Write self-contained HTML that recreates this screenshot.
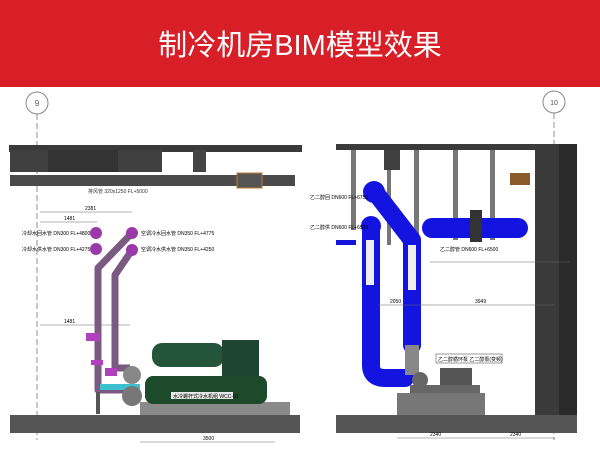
<!DOCTYPE html>
<html><head><meta charset="utf-8"><style>
body{margin:0;width:600px;height:450px;overflow:hidden;background:#fff;font-family:"Liberation Sans","Noto Sans CJK SC",sans-serif}
.hdr{position:absolute;left:0;top:0;width:600px;height:87px;background:#d81e26;color:#fff;font-size:29px;text-align:center;line-height:92px;letter-spacing:0px}
svg{position:absolute;left:0;top:0}
</style></head><body>
<div class="hdr">制冷机房BIM模型效果</div>
<svg width="600" height="450" viewBox="0 0 600 450" font-family="Liberation Sans, Noto Sans CJK SC, sans-serif">
<!-- axis markers -->
<circle cx="37" cy="103" r="11" fill="#fff" stroke="#888"/><text x="37" y="106" font-size="8" text-anchor="middle" fill="#555">9</text>
<line x1="37" y1="114" x2="37" y2="440" stroke="#777" stroke-dasharray="6,3" stroke-width="0.8"/>
<circle cx="554" cy="102" r="11" fill="#fff" stroke="#888"/><text x="554" y="105" font-size="7" text-anchor="middle" fill="#555">10</text>
<line x1="554" y1="113" x2="554" y2="440" stroke="#777" stroke-dasharray="6,3" stroke-width="0.8"/>
<!-- LEFT -->
<rect x="9" y="145" width="293" height="7" fill="#3a3a3a"/>
<rect x="10" y="150" width="152" height="22" fill="#404040"/>
<rect x="48" y="150" width="70" height="22" fill="#333"/>
<rect x="193" y="150" width="13" height="22" fill="#444"/>
<rect x="10" y="175" width="285" height="11" fill="#4a4a4a"/>
<rect x="237" y="173" width="25" height="15" fill="#555" stroke="#c07a30"/>
<text x="88" y="193" font-size="5" fill="#333">排风管 320x1250 FL+5000</text>
<line x1="40" y1="212" x2="132" y2="212" stroke="#666" stroke-width="0.6"/><text x="85" y="210" font-size="5">2381</text>
<line x1="40" y1="222" x2="97" y2="222" stroke="#666" stroke-width="0.6"/><text x="64" y="220" font-size="5">1481</text>
<line x1="40" y1="325" x2="130" y2="325" stroke="#666" stroke-width="0.6"/><text x="64" y="323" font-size="5">1481</text>
<text x="22" y="235" font-size="5">冷却水回水管 DN300 FL+4800</text>
<text x="22" y="251" font-size="5">冷却水供水管 DN300 FL+4275</text>
<text x="141" y="235" font-size="5">空调冷水回水管 DN350 FL+4775</text>
<text x="141" y="251" font-size="5">空调冷水供水管 DN350 FL+4250</text>
<circle cx="96" cy="233" r="6" fill="#9a3aa8"/><circle cx="96" cy="249" r="6" fill="#9a3aa8"/>
<g fill="none" stroke="#7a5a80" stroke-width="7" stroke-linejoin="round">
<path d="M132 233 L98 268 L98 390 L140 390"/>
<path d="M132 250 L115 275 L115 368 L130 368"/></g>
<circle cx="132" cy="233" r="6" fill="#9a3aa8"/><circle cx="132" cy="250" r="6" fill="#9a3aa8"/>
<rect x="86" y="333" width="14" height="8" fill="#b040c0"/><rect x="91" y="360" width="12" height="5" fill="#b040c0"/><rect x="105" y="368" width="12" height="8" fill="#b040c0"/>
<rect x="96" y="392" width="4" height="22" fill="#555"/>
<rect x="100" y="384" width="40" height="6" fill="#3cc0d0"/>
<circle cx="132" cy="396" r="10" fill="#777"/><circle cx="132" cy="375" r="9" fill="#888"/>
<rect x="140" y="402" width="150" height="13" fill="#8a8a8a"/>
<rect x="145" y="376" width="122" height="28" rx="8" fill="#1e4a2c"/>
<rect x="152" y="343" width="72" height="24" rx="10" fill="#24553a"/>
<rect x="222" y="340" width="37" height="36" fill="#1d4530"/>
<rect x="171" y="392" width="62" height="7" fill="#e8e8e8"/><text x="173" y="398" font-size="5">水冷螺杆式冷水机组 WCC-01</text>
<rect x="10" y="415" width="290" height="18" fill="#555"/>
<line x1="140" y1="442" x2="275" y2="442" stroke="#666" stroke-width="0.6"/><text x="203" y="440" font-size="5">3500</text>
<!-- RIGHT -->
<rect x="336" y="144" width="200" height="6" fill="#3a3a3a"/>
<g fill="#777"><rect x="351" y="150" width="5" height="80"/><rect x="414" y="150" width="5" height="190"/><rect x="453" y="150" width="5" height="90"/><rect x="490" y="150" width="5" height="90"/><rect x="387" y="150" width="4" height="95"/></g>
<rect x="384" y="150" width="16" height="20" fill="#3f3f3f"/>
<rect x="510" y="173" width="20" height="12" fill="#8a5a2a"/>
<rect x="535" y="144" width="42" height="272" fill="#3a3a3a"/>
<rect x="559" y="144" width="18" height="272" fill="#2a2a2a"/>
<rect x="336" y="415" width="241" height="18" fill="#555"/>
<rect x="336" y="240" width="20" height="5" fill="#1414d8"/>
<g fill="none" stroke="#1414e0" stroke-linejoin="round" stroke-linecap="round">
<path d="M371 228 L371 365 Q371 378 385 378 L405 378" stroke-width="18"/>
<path d="M375 192 L412 240 L412 345" stroke-width="18"/></g>
<rect x="405" y="345" width="14" height="30" fill="#888"/>
<circle cx="371" cy="226" r="10" fill="#1414e0"/><circle cx="374" cy="192" r="11" fill="#1414e0"/>
<rect x="366" y="240" width="8" height="45" fill="#eee"/><rect x="408" y="245" width="8" height="45" fill="#eee"/>
<rect x="422" y="218" width="106" height="20" rx="10" fill="#1414e0"/>
<rect x="470" y="210" width="12" height="32" fill="#333"/>
<text x="310" y="199" font-size="5">乙二醇回 DN600 FL+6750</text>
<text x="310" y="229" font-size="5">乙二醇供 DN600 FL+6500</text>
<text x="440" y="251" font-size="5">乙二醇管 DN600 FL+6500</text>
<line x1="430" y1="262" x2="570" y2="262" stroke="#666" stroke-width="0.6"/>
<line x1="378" y1="305" x2="555" y2="305" stroke="#666" stroke-width="0.6"/><text x="390" y="303" font-size="5">2050</text><text x="475" y="303" font-size="5">3949</text>
<rect x="436" y="354" width="66" height="9" fill="#fff" stroke="#333" stroke-width="0.5"/><text x="438" y="361" font-size="5">乙二醇循环泵 乙二醇泵(变频)</text>
<rect x="440" y="368" width="32" height="18" fill="#555"/><circle cx="420" cy="380" r="8" fill="#666"/>
<rect x="410" y="385" width="70" height="8" fill="#666"/>
<rect x="397" y="393" width="88" height="22" fill="#777"/>
<line x1="397" y1="438" x2="555" y2="438" stroke="#666" stroke-width="0.6"/><text x="430" y="436" font-size="5">2340</text><text x="510" y="436" font-size="5">2340</text>
</svg>
</body></html>
